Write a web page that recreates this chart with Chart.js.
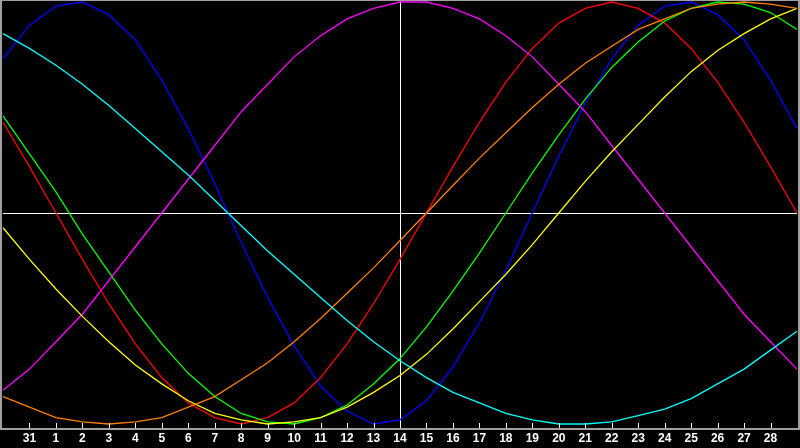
<!DOCTYPE html>
<html>
<head>
<meta charset="utf-8">
<title>Biorritmos</title>
<script src="https://cdn.jsdelivr.net/npm/chart.js@4.4.1/dist/chart.umd.min.js"></script>
<style>
    html, body { margin: 0; padding: 0; background: #000; overflow: hidden; }
    canvas { display: block; }
</style>
</head>
<body>
<canvas id="grafico" width="800" height="448"></canvas>
<script>
// ===============================
//   Biorritmos - grafico del mes
// ===============================

// -------------------------------
// Datos (un valor por dia)
// -------------------------------
const dias = ["30", "31", "1", "2", "3", "4", "5", "6", "7", "8", "9", "10", "11", "12", "13", "14",
    "15", "16", "17", "18", "19", "20", "21", "22", "23", "24", "25", "26", "27", "28", "29"];

const diaMarcado = "14";

const fisico = [0.73, 0.89, 0.98, 1.00, 0.94, 0.82, 0.63, 0.40, 0.14, -0.14, -0.40, -0.63, -0.82, -0.94, -1.00, -0.98,
    -0.89, -0.73, -0.52, -0.27, 0.00, 0.27, 0.52, 0.73, 0.89, 0.98, 1.00, 0.94, 0.82, 0.63, 0.40];

const emocional = [0.43, 0.22, 0.00, -0.22, -0.43, -0.62, -0.78, -0.90, -0.97, -1.00, -0.97, -0.90, -0.78, -0.62, -0.43, -0.22,
    0.00, 0.22, 0.43, 0.62, 0.78, 0.90, 0.97, 1.00, 0.97, 0.90, 0.78, 0.62, 0.43, 0.22, 0.00];

const intelectual = [0.46, 0.28, 0.10, -0.10, -0.28, -0.46, -0.62, -0.76, -0.87, -0.95, -0.99, -1.00, -0.97, -0.91, -0.81, -0.69,
    -0.54, -0.37, -0.19, 0.00, 0.19, 0.37, 0.54, 0.69, 0.81, 0.91, 0.97, 1.00, 0.99, 0.95, 0.87];

const intuitivo = [-0.84, -0.74, -0.61, -0.48, -0.32, -0.16, 0.00, 0.16, 0.32, 0.48, 0.61, 0.74, 0.84, 0.92, 0.97, 1.00,
    1.00, 0.97, 0.92, 0.84, 0.74, 0.61, 0.48, 0.32, 0.16, 0.00, -0.16, -0.32, -0.48, -0.61, -0.74];

const estetico = [-0.07, -0.22, -0.36, -0.49, -0.61, -0.72, -0.81, -0.89, -0.95, -0.98, -1.00, -0.99, -0.97, -0.92, -0.85, -0.77,
    -0.67, -0.55, -0.42, -0.29, -0.15, 0.00, 0.15, 0.29, 0.42, 0.55, 0.67, 0.77, 0.85, 0.92, 0.97];

const conciencia = [-0.87, -0.92, -0.97, -0.99, -1.00, -0.99, -0.97, -0.92, -0.87, -0.79, -0.71, -0.61, -0.50, -0.38, -0.26, -0.13,
    0.00, 0.13, 0.26, 0.38, 0.50, 0.61, 0.71, 0.79, 0.87, 0.92, 0.97, 0.99, 1.00, 0.99, 0.97];

const espiritual = [0.85, 0.78, 0.70, 0.61, 0.51, 0.40, 0.29, 0.18, 0.06, -0.06, -0.18, -0.29, -0.40, -0.51, -0.61, -0.70,
    -0.78, -0.85, -0.90, -0.95, -0.98, -1.00, -1.00, -0.99, -0.96, -0.93, -0.88, -0.81, -0.74, -0.65, -0.56];

// -------------------------------
// Plugin: cruz, marco y marcas
// -------------------------------
const marco = {
    id: "marco",
    beforeDatasetsDraw(chart) {
        const { ctx, chartArea, scales } = chart;
        const xc = Math.round(scales.x.getPixelForValue(dias.indexOf(diaMarcado))) + 0.5;
        const yc = Math.round(scales.y.getPixelForValue(0)) + 0.5;

        ctx.save();
        ctx.strokeStyle = "#ffffff";
        ctx.lineWidth = 1;
        ctx.beginPath();
        ctx.moveTo(xc, chartArea.top);
        ctx.lineTo(xc, chartArea.bottom);
        ctx.moveTo(chartArea.left, yc);
        ctx.lineTo(chartArea.right, yc);
        ctx.stroke();
        ctx.restore();
    },
    afterDraw(chart) {
        const { ctx, chartArea, scales } = chart;
        const abajo = Math.round(chartArea.bottom);

        ctx.save();
        // marcas de los dias, hacia dentro
        ctx.fillStyle = "#ffffff";
        for (let i = 1; i < dias.length - 1; i++) {
            const x = Math.round(scales.x.getPixelForValue(i));
            ctx.fillRect(x, abajo - 5, 1, 5);
        }
        // marco gris
        ctx.fillStyle = "#a0a0a0";
        ctx.fillRect(0, 0, chart.width, 1);
        ctx.fillRect(0, 0, 2, abajo + 2);
        ctx.fillRect(chart.width - 2, 0, 2, abajo + 2);
        ctx.fillRect(0, abajo, chart.width, 2);
        ctx.restore();
    }
};

// -------------------------------
// Grafico
// -------------------------------
function serie(datos, color) {
    return {
        data: datos,
        borderColor: color,
        borderWidth: 1.3,
        pointRadius: 0,
        tension: 0,
        fill: false
    };
}

const ctx = document.getElementById("grafico").getContext("2d");

new Chart(ctx, {
    type: "line",
    data: {
        labels: dias,
        // la primera serie se pinta encima
        datasets: [
            serie(espiritual, "#00ffff"),
            serie(conciencia, "#ff8000"),
            serie(estetico, "#ffff00"),
            serie(intuitivo, "#ff00ff"),
            serie(intelectual, "#00ff00"),
            serie(emocional, "#ff0000"),
            serie(fisico, "#0000ff")
        ]
    },
    options: {
        responsive: false,
        animation: false,
        devicePixelRatio: 1,
        layout: { padding: 0 },
        scales: {
            x: {
                offset: false,
                grid: { display: false, drawTicks: false },
                border: { display: false },
                ticks: {
                    autoSkip: false,
                    maxRotation: 0,
                    padding: 3,
                    color: "#ffffff",
                    font: { family: "Liberation Sans", size: 12, weight: "bold" },
                    callback: (valor, i) => (i === 0 || i === dias.length - 1) ? "" : dias[i]
                },
                afterFit(escala) { escala.height = 20; }
            },
            y: {
                display: false,
                min: -1.019,
                max: 1.0095
            }
        },
        plugins: {
            legend: { display: false },
            tooltip: { enabled: false }
        }
    },
    plugins: [marco]
});
</script>
</body>
</html>
